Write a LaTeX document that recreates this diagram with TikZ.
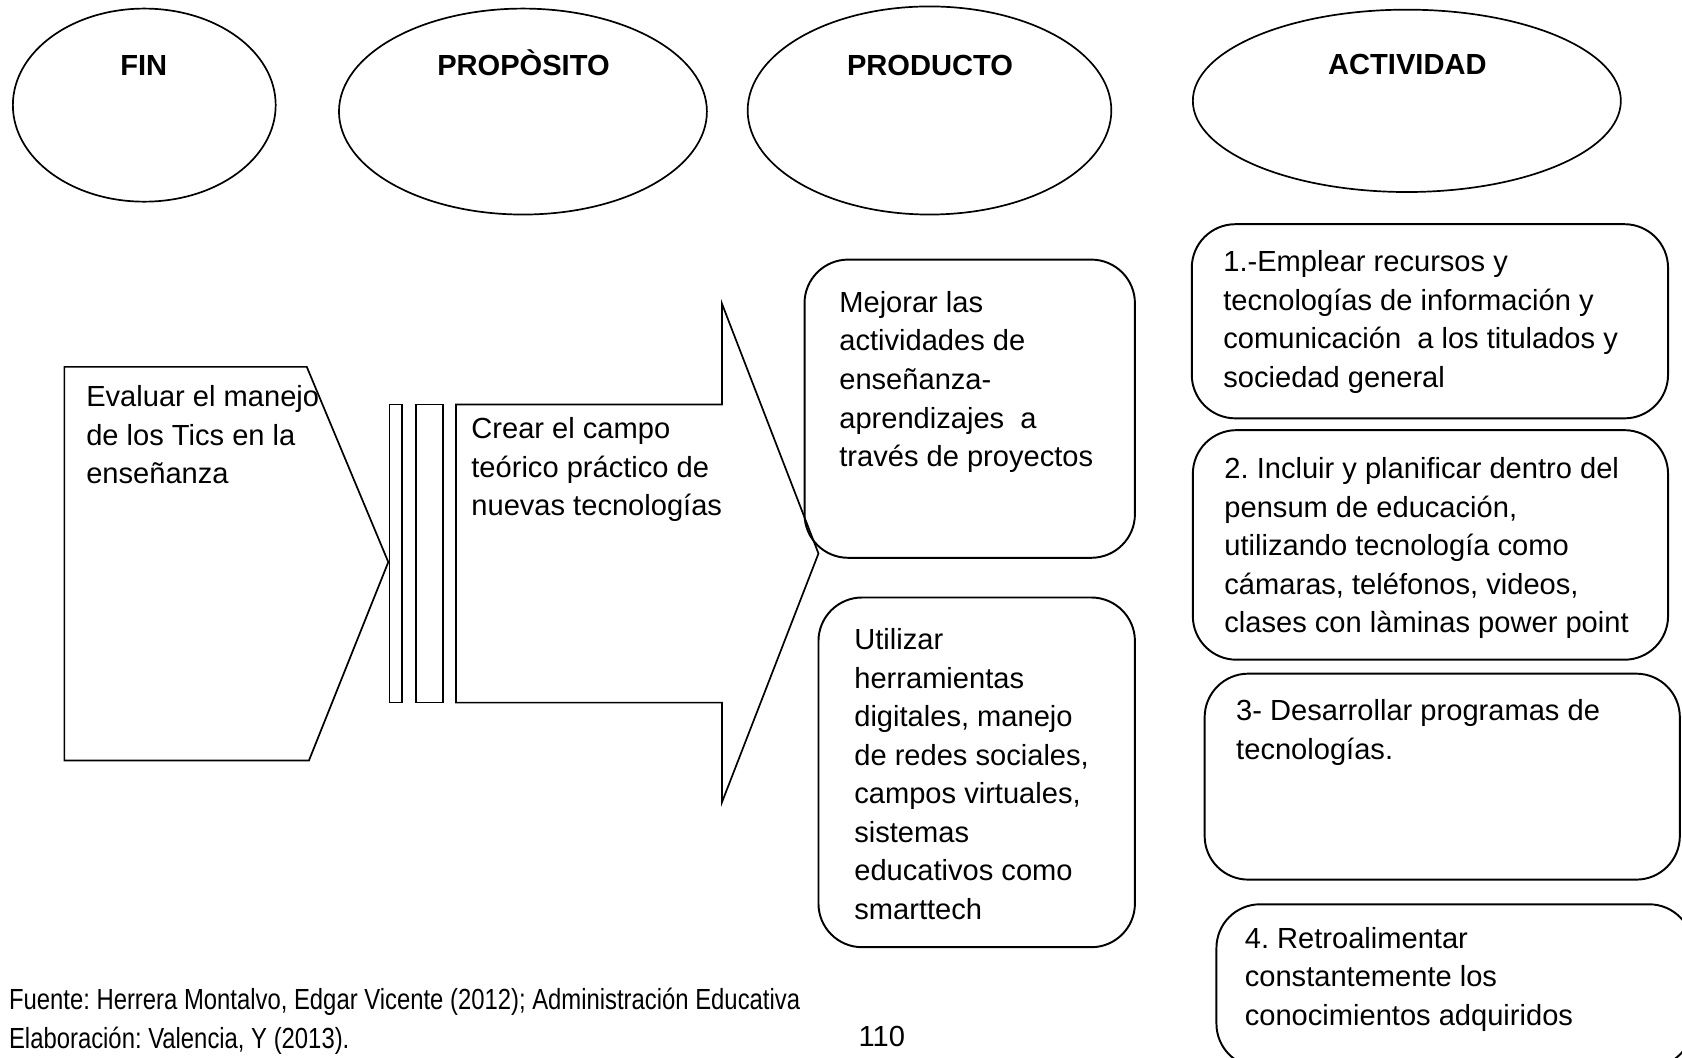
\documentclass[tikz,border=0pt]{standalone}
\usepackage{fontspec}
\setmainfont{Liberation Sans}
\newfontfamily\narrowfont{Liberation Sans}[FakeStretch=0.82]
\frenchspacing
\tikzset{head/.style={font=\fontsize{12}{15.9}\selectfont\bfseries, inner sep=0, anchor=base}}
\tikzset{txt/.style={font=\fontsize{12}{15.9}\selectfont, align=left, inner sep=0, anchor=base west}}
\tikzset{card/.style={draw, line width=0.8pt, rounded corners=18pt}}
\tikzset{plain/.style={draw, line width=0.7pt}}

\begin{document}
\begin{tikzpicture}[x=0.4425pt, y=-0.4425pt]
    \useasboundingbox (0, 0) rectangle (1568, 986);
    \clip (0, 0) rectangle (1568, 986);

    % column heads
    \draw[plain] (134.5, 98) ellipse [x radius=122.5, y radius=90];
    \draw[plain] (487.5, 104) ellipse [x radius=171.5, y radius=96];
    \draw[plain] (866.5, 103) ellipse [x radius=169.5, y radius=97];
    \draw[plain] (1311.5, 94) ellipse [x radius=199.5, y radius=85];
    \node[head] at (134, 70) (fin) {FIN};
    \node[head] at (488, 70) (proposito) {PROPÒSITO};
    \node[head] at (867, 70) (producto) {PRODUCTO};
    \node[head] at (1312, 69) (actividad) {ACTIVIDAD};

    % fin and proposito (text nodes sit on their last line)
    \draw[plain] (60, 342) -- (286, 342) -- (362, 524) -- (288, 709) -- (60, 709) -- cycle;
    \draw[plain] (363, 377) rectangle (375, 655);
    \draw[plain] (388, 377) rectangle (413, 655);
    \draw[plain] (425, 377) -- (673, 377) -- (673, 283) -- (763, 516)
        -- (673, 748) -- (673, 655) -- (425, 655) -- cycle;
    \node[txt] at (80, 451) (evaluar) {Evaluar el manejo\\de los Tics en la\\enseñanza};
    \node[txt] at (439, 481) (crear) {Crear el campo\\teórico práctico de\\nuevas tecnologías};

    % productos
    \draw[card] (750, 242) rectangle (1058, 520);
    \draw[card] (763, 557) rectangle (1058, 883);
    \node[txt] at (782, 435) (mejorar) {Mejorar las\\actividades de\\enseñanza-\\aprendizajes\ \ a\\través de proyectos};
    \node[txt] at (796, 857) (utilizar) {Utilizar\\herramientas\\digitales, manejo\\de redes sociales,\\campos virtuales,\\sistemas\\educativos como\\smarttech};

    % actividades
    \draw[card] (1111, 209) rectangle (1555, 390);
    \draw[card] (1112, 401) rectangle (1555, 615);
    \draw[card] (1123, 628) rectangle (1566, 820);
    \draw[card] (1134, 843) rectangle (1578, 995);
    \node[txt] at (1140, 361) (act1) {1.-Emplear recursos y\\tecnologías de información y\\comunicación\ \ a los titulados y\\sociedad general};
    \node[txt] at (1141, 590) (act2) {2. Incluir y planificar dentro del\\pensum de educación,\\utilizando tecnología como\\cámaras, teléfonos, videos,\\clases con làminas power point};
    \node[txt] at (1152, 708) (act3) {3- Desarrollar programas de\\tecnologías.};
    \node[txt] at (1160, 956) (act4) {4. Retroalimentar\\constantemente los\\conocimientos adquiridos};

    % fuente
    \node[txt, font=\fontsize{12}{15.9}\selectfont\narrowfont] at (8, 977) (fuente) {Fuente: Herrera Montalvo, Edgar Vicente (2012); Administración Educativa\\Elaboración: Valencia, Y (2013).};
    \node[txt] at (800, 976) (pagina) {110};
\end{tikzpicture}
\end{document}
